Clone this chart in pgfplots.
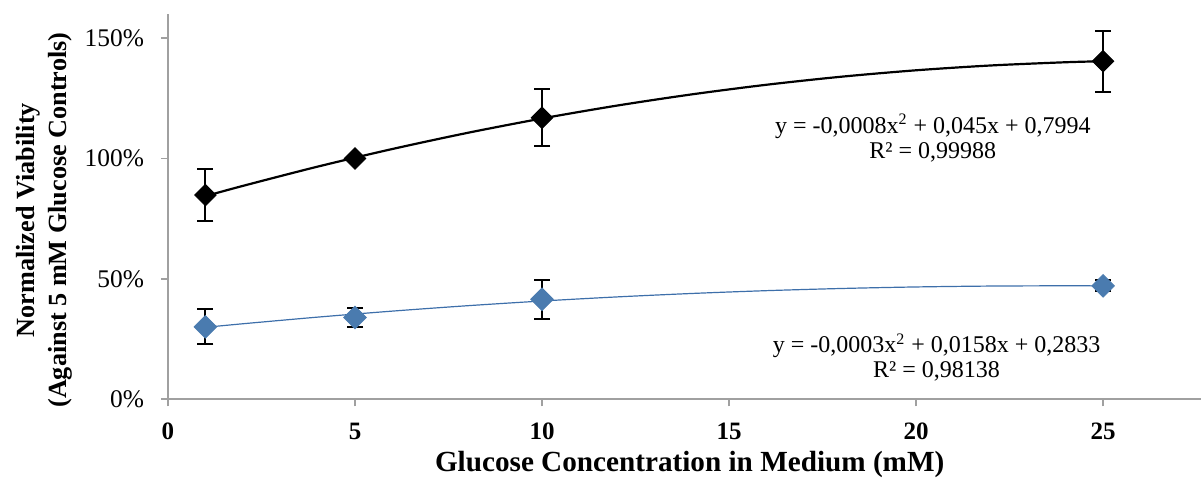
\documentclass[border=0pt]{standalone}
\usepackage{fontspec}
\setmainfont{Liberation Serif}
\usepackage{pgfplots}
\pgfplotsset{compat=1.18}
\usepackage{pgfplotstable}

\definecolor{axisgray}{HTML}{A0A0A0}
\definecolor{seriesblue}{HTML}{4A7BAF}
\definecolor{trendblue}{HTML}{3D6FAA}

% measured viability (%) with standard deviation
\pgfplotstableread{
x   y      err
1   84.8   10.9
5   100.0  0
10  116.9  11.8
25  140.4  12.6
}\highgluc

\pgfplotstableread{
x   y      err
1   30.1   7.3
5   34.0   4.0
10  41.5   8.0
25  47.1   2.3
}\lowgluc

% polynomial (order 2) trendlines
\pgfplotstableread{
x   y
1   84.36
2   88.61
4   96.61
6   103.94
8   110.61
10  116.61
12  121.95
14  126.61
16  130.61
18  133.95
20  136.62
22  138.62
24  139.96
25  140.38
}\hightrend

\pgfplotstableread{
x   y
1   29.88
2   31.36
4   34.12
6   36.62
8   38.85
10  40.81
12  42.51
14  43.94
16  45.11
18  46.01
20  46.65
22  47.02
24  47.13
25  47.08
}\lowtrend

\begin{document}
\begin{tikzpicture}
\useasboundingbox (0,0) rectangle (600.5pt,245.5pt);
\begin{axis}[
  at={(84pt,45.85pt)}, anchor=south west,
  scale only axis, width=516.5pt, height=192.65pt,
  xmin=0, xmax=27.62, ymin=0, ymax=160,
  axis x line=bottom, axis y line=left,
  axis line style={-, draw=axisgray, line width=1pt},
  tick align=outside, major tick length=3.5pt,
  tick style={draw=axisgray, line width=0.8pt},
  xtick={0,5,10,15,20,25},
  ytick={0,50,100,150},
  yticklabel={\pgfmathprintnumber{\tick}\%},
  /pgf/number format/assume math mode=true,
  xticklabel style={font=\fontsize{12.5}{15}\selectfont\bfseries, yshift=-5pt},
  yticklabel style={font=\fontsize{12.7}{15}\selectfont, xshift=-5pt},
  xlabel={Glucose Concentration in Medium (mM)},
  xlabel style={font=\fontsize{14.6}{17}\selectfont\bfseries,
    at={(rel axis cs:0.505,-0.168)}, anchor=center},
  ylabel={Normalized Viability\\(Against 5 mM Glucose Controls)},
  ylabel style={font=\fontsize{13.1}{16.3}\selectfont\bfseries, align=center,
    at={(rel axis cs:-0.1196,0.465)}, anchor=center},
  clip=false,
]
% error bars first so that the markers sit on top
\addplot[draw=none, mark=none, forget plot,
  error bars/.cd, y dir=both, y explicit,
  error mark options={draw=black, line width=1pt, rotate=90, mark size=4pt},
  error bar style={draw=black, line width=1pt}]
  table[x=x, y=y, y error=err] {\highgluc};
\addplot[draw=none, mark=none, forget plot,
  error bars/.cd, y dir=both, y explicit,
  error mark options={draw=black, line width=1pt, rotate=90, mark size=4pt},
  error bar style={draw=black, line width=1pt}]
  table[x=x, y=y, y error=err] {\lowgluc};

% trendlines
\addplot[black, line width=1.1pt, smooth, mark=none] table[x=x, y=y] {\hightrend};
\addplot[trendblue, line width=0.6pt, smooth, mark=none] table[x=x, y=y] {\lowtrend};

% data markers
\addplot[only marks, mark=square*, mark size=3.8pt,
  mark options={rotate=45, fill=black, draw=black}] table[x=x, y=y] {\highgluc};
\addplot[only marks, mark=square*, mark size=4pt,
  mark options={rotate=45, fill=seriesblue, draw=seriesblue}] table[x=x, y=y] {\lowgluc};

% trendline equations
\node[align=center, font=\fontsize{12}{12.5}\selectfont] at (axis cs:20.45,108.6)
  {y = -0,0008x\textsuperscript{2} + 0,045x + 0,7994\\R² = 0,99988};
\node[align=center, font=\fontsize{12}{12.5}\selectfont] at (axis cs:20.55,17.3)
  {y = -0,0003x\textsuperscript{2} + 0,0158x + 0,2833\\R² = 0,98138};
\end{axis}
\end{tikzpicture}
\end{document}
